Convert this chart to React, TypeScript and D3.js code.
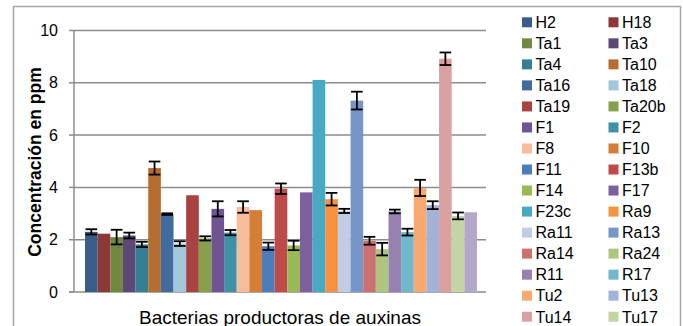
import React from 'react';
import * as d3 from 'd3';

const width = 683;
const height = 326;

// bacteria strains, in chart/legend order (the 31st entry is cut off in the picture)
const strains = [
  'H2', 'H18', 'Ta1', 'Ta3', 'Ta4', 'Ta10', 'Ta16', 'Ta18', 'Ta19', 'Ta20b',
  'F1', 'F2', 'F8', 'F10', 'F11', 'F13b', 'F14', 'F17', 'F23c', 'Ra9',
  'Ra11', 'Ra13', 'Ra14', 'Ra24', 'R11', 'R17', 'Tu2', 'Tu13', 'Tu14', 'Tu17',
  'Tu20'
];

// auxin concentration (ppm)
const concentration = [
  2.3, 2.23, 2.1, 2.16, 1.82, 4.74, 2.98, 1.85, 3.7, 2.05,
  3.18, 2.27, 3.25, 3.13, 1.75, 3.95, 1.78, 3.81, 8.11, 3.55,
  3.1, 7.32, 1.96, 1.64, 3.08, 2.29, 3.98, 3.32, 8.92, 2.91,
  3.05
];

// standard deviation, 0 = no error bar drawn
const stdev = [
  0.1, 0, 0.28, 0.11, 0.1, 0.25, 0.03, 0.09, 0, 0.08,
  0.29, 0.1, 0.22, 0, 0.14, 0.2, 0.18, 0, 0, 0.24,
  0.08, 0.34, 0.15, 0.24, 0.07, 0.13, 0.31, 0.15, 0.24, 0.13,
  0
];

const colors = [
  '#385d8a', '#8c3836', '#71893f', '#5c4776', '#357f93', '#b66d31',
  '#416b9f', '#a0c8da', '#a84342', '#86a04c', '#6e5490', '#3f91a8',
  '#f8bd9d', '#d47e38', '#4a7ebb', '#be4b48', '#98b954', '#7d60a0',
  '#46aac5', '#f69240', '#c1cde2', '#7596c7', '#ca7170', '#adc57c',
  '#9681b0', '#71b8cc', '#f9a870', '#a1b3d6', '#d9a2a1', '#c3d5a4',
  '#b3a8c9'
];

const yTicks = [0, 2, 4, 6, 8, 10];

const font = "'Liberation Sans', Arial, sans-serif";
const gridColor = '#8c8c8c';

export default function App() {
  const plot = { left: 74, right: 486, top: 30.5, bottom: 292 };

  const x = d3.scaleBand<string>()
    .domain(strains)
    .range([85, 477])
    .padding(0);

  const y = d3.scaleLinear()
    .domain([0, 10])
    .range([plot.bottom, plot.top]);

  const bw = x.bandwidth();
  const cap = bw - 1;

  // legend: two columns, row after row
  const legendRow = (i: number) => 22.3 + Math.floor(i / 2) * 21.03;
  const legendCol = (i: number) => (i % 2 === 0 ? 522 : 608.5);

  return (
    <svg
      width={width}
      height={height}
      style={{ position: 'absolute', left: 0, top: 0, background: '#fff' }}
      fontFamily={font}
    >
      {/* chart frame */}
      <path d="M13.5,340 V6.5 H680.5 V340" fill="none" stroke="#a6a6a6" strokeWidth={1.5} />

      {/* gridlines + y ticks */}
      {yTicks.map(t => (
        <g key={t}>
          <line
            x1={t === 0 ? 69 : plot.left}
            x2={plot.right}
            y1={y(t)}
            y2={y(t)}
            stroke={gridColor}
            strokeWidth={1.5}
          />
          <line x1={69} x2={plot.left} y1={y(t)} y2={y(t)} stroke={gridColor} strokeWidth={1.5} />
          <text x={58} y={y(t) + 5.6} textAnchor="end" fontSize={16} fill="#000">
            {t}
          </text>
        </g>
      ))}
      <line x1={plot.left} x2={plot.left} y1={plot.top} y2={plot.bottom} stroke={gridColor} strokeWidth={1.5} />

      {/* bars */}
      {strains.map((s, i) => (
        <rect
          key={s}
          x={x(s)}
          y={y(concentration[i])}
          width={bw}
          height={y(0) - y(concentration[i])}
          fill={colors[i]}
        />
      ))}

      {/* error bars */}
      {strains.map((s, i) => {
        if (!stdev[i]) return null;
        const cx = (x(s) as number) + bw / 2;
        const hi = y(concentration[i] + stdev[i]);
        const lo = y(concentration[i] - stdev[i]);
        return (
          <g key={s} stroke="#000" strokeWidth={1.8}>
            <line x1={cx} x2={cx} y1={hi} y2={lo} />
            <line x1={cx - cap / 2} x2={cx + cap / 2} y1={hi} y2={hi} />
            <line x1={cx - cap / 2} x2={cx + cap / 2} y1={lo} y2={lo} />
          </g>
        );
      })}

      {/* axis titles */}
      <text
        transform={`translate(41, 162) rotate(-90)`}
        textAnchor="middle"
        fontSize={17.5}
        fontWeight="bold"
        fill="#000"
      >
        Concentración en ppm
      </text>
      <text x={(plot.left + plot.right) / 2} y={324} textAnchor="middle" fontSize={19} fill="#000">
        Bacterias productoras de auxinas
      </text>

      {/* legend */}
      {strains.map((s, i) => (
        <g key={s}>
          <rect x={legendCol(i)} y={legendRow(i) - 5} width={10} height={10} fill={colors[i]} />
          <text x={legendCol(i) + 13.5} y={legendRow(i) + 5.8} fontSize={16} fill="#000">
            {s}
          </text>
        </g>
      ))}
    </svg>
  );
}
